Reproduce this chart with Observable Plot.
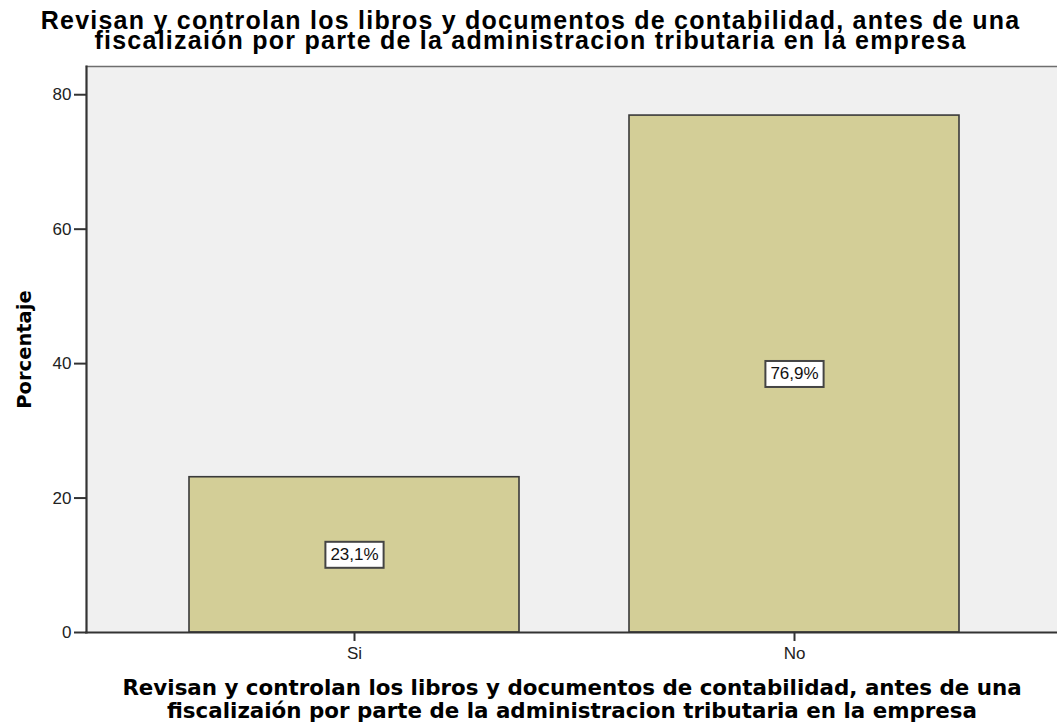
<!DOCTYPE html>
<html>
<head>
<meta charset="utf-8">
<script src="https://cdn.jsdelivr.net/npm/d3@7"></script>
<script src="https://cdn.jsdelivr.net/npm/@observablehq/plot@0.6"></script>
<style>
  html, body { margin: 0; padding: 0; background: #ffffff; }
  #chart { width: 1057px; height: 724px; }
</style>
</head>
<body>
<div id="chart"></div>
<script>
const categories = ["Si", "No"];
const percentages = [23.1, 76.9];
const valueLabels = ["23,1%", "76,9%"];
const yTicks = [0, 20, 40, 60, 80];
const titleLines = [
  "Revisan y controlan los libros y documentos de contabilidad, antes de una",
  "fiscalizaión por parte de la administracion tributaria en la empresa"
];
const xTitleLines = [
  "Revisan y controlan los libros y documentos de contabilidad, antes de una",
  "fiscalizaión por parte de la administracion tributaria en la empresa"
];
const yTitle = "Porcentaje";

const data = categories.map((c, i) => ({cat: c, pct: percentages[i], label: valueLabels[i]}));

const W = 1057, H = 724;
const mL = 86, mR = 0, mT = 66, mB = 92;
const frameCenterX = mL + (W - mL - mR) / 2;

const chart = Plot.plot({
  width: W,
  height: H,
  marginLeft: mL,
  marginRight: mR,
  marginTop: mT,
  marginBottom: mB,
  style: {fontFamily: "'Liberation Sans', Arial, sans-serif", fontSize: "17px", color: "#222", background: "#ffffff", overflow: "visible"},
  x: {domain: categories, range: [88, 1060], paddingInner: 0.25, paddingOuter: 0.228, label: null},
  y: {domain: [0, 84.2], label: null},
  marks: [
    Plot.frame({fill: "#f0f0f0", stroke: null}),
    Plot.frame({anchor: "top", stroke: "#6e6e6e", strokeWidth: 1.5}),
    Plot.barY(data, {x: "cat", y: "pct", fill: "#d3ce97", stroke: "#3a3a3a", strokeWidth: 1.6}),
    Plot.frame({anchor: "left", stroke: "#333", strokeWidth: 2.2}),
    Plot.frame({anchor: "bottom", stroke: "#333", strokeWidth: 2.2}),
    Plot.axisY({ticks: yTicks, tickSize: 12, tickPadding: 3, stroke: "#333", strokeWidth: 2, label: null, fontSize: 17, fill: "#222"}),
    Plot.axisX({tickSize: 9, tickPadding: 5, stroke: "#333", strokeWidth: 2, label: null, fontSize: 17, fill: "#222"}),
    Plot.text(data, {x: "cat", y: d => d.pct / 2, text: "label", fontSize: 17, fill: "#111"}),
    Plot.text([titleLines.join("\n")], {frameAnchor: "top", dx: 530 - frameCenterX, dy: -52, lineAnchor: "top", lineHeight: 0.8, fontSize: 25, fontWeight: "bold", fill: "#000"}),
    Plot.text([xTitleLines.join("\n")], {frameAnchor: "bottom", dy: 47, dx: 0, lineAnchor: "top", lineHeight: 1.04, fontSize: 21.4, fontWeight: "bold", fontFamily: "'DejaVu Sans', Verdana, sans-serif", fill: "#000"}),
    Plot.text([yTitle], {frameAnchor: "left", dx: -62, rotate: -90, textAnchor: "middle", fontSize: 19.5, fontWeight: "bold", fontFamily: "'DejaVu Sans', Verdana, sans-serif", fill: "#000"})
  ]
});

document.getElementById("chart").appendChild(chart);

// widen the main title like the reference
d3.select(chart).selectAll("text").filter(function() {
  return getComputedStyle(this).fontSize === "25px";
}).style("letter-spacing", "1.24px");

// white boxes behind the value labels
d3.select(chart).selectAll("text").filter(function() {
  return valueLabels.includes(this.textContent);
}).each(function() {
  const b = this.getBBox();
  const padX = 5, h = 26;
  const cy = b.y + b.height / 2;
  const rect = document.createElementNS("http://www.w3.org/2000/svg", "rect");
  rect.setAttribute("x", b.x - padX);
  rect.setAttribute("y", cy - h / 2);
  rect.setAttribute("width", b.width + 2 * padX);
  rect.setAttribute("height", h);
  rect.setAttribute("fill", "#ffffff");
  rect.setAttribute("stroke", "#444");
  rect.setAttribute("stroke-width", "2");
  const t = this.getAttribute("transform");
  if (t) rect.setAttribute("transform", t);
  this.parentNode.insertBefore(rect, this);
});
</script>
</body>
</html>
